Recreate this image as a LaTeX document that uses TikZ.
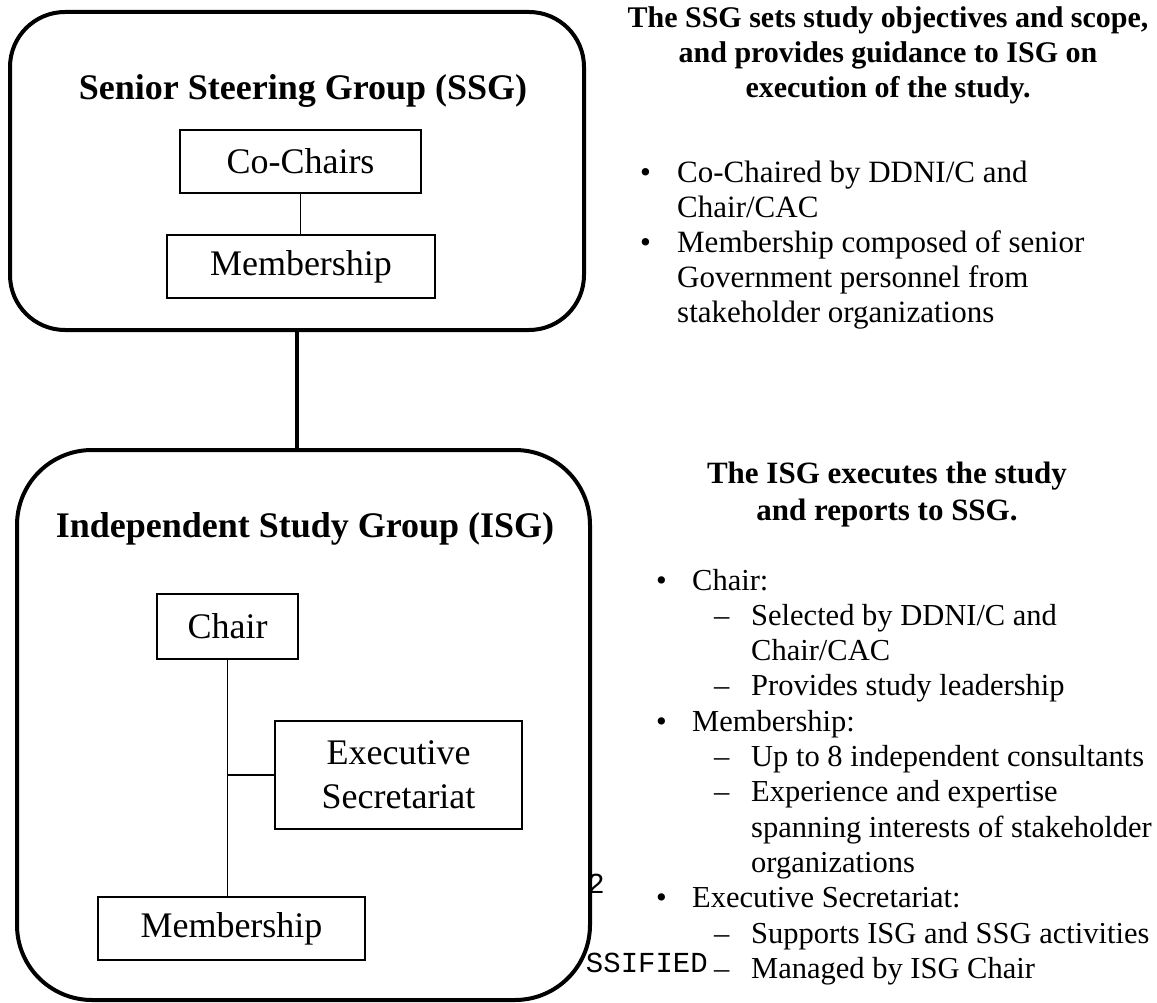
\documentclass[tikz,border=0pt]{standalone}
\usepackage{fontspec}
\setmainfont{Liberation Serif}
\newfontfamily\typefont{Liberation Mono}
\newcommand{\boxfont}{\fontsize{36}{44}\selectfont}
\newcommand{\groupfont}{\fontsize{36}{42}\selectfont\bfseries}
\newcommand{\headfont}{\fontsize{30}{35}\selectfont\bfseries}
\newcommand{\isgheadfont}{\fontsize{31}{37}\selectfont\bfseries}
\newcommand{\notefont}{\fontsize{31}{35}\selectfont}
\newcommand{\isgnotefont}{\fontsize{30.5}{35.3}\selectfont}
\begin{document}
\begin{tikzpicture}[x=1pt, y=-1pt,
    groupbox/.style={draw, line width=4pt, rounded corners=55pt, inner sep=0pt},
    unitbox/.style={draw, line width=1.6pt, inner sep=0pt, font=\boxfont, align=center},
    thinlink/.style={line width=1.6pt},
    thicklink/.style={line width=4pt}]

  % Achtergrond
  \useasboundingbox[fill=white] (0,0) rectangle (1157,1003);

  % Restanten van de scan
  \node[anchor=base east, inner sep=0pt, font=\typefont\fontsize{29}{29}\selectfont] (pagenr) at (605,893) {2};
  \node[anchor=base east, inner sep=0pt, font=\typefont\fontsize{29}{29}\selectfont] (footer) at (708,972) {SSIFIED};

  % Groepen
  \node[groupbox, minimum width=574pt, minimum height=318pt] (ssg) at (297,171) {};
  \node[groupbox, rounded corners=75pt, minimum width=573pt, minimum height=550pt] (isg) at (303.5,725) {};
  \node[anchor=base, font=\groupfont] (ssgtitle) at (303,100) {Senior Steering Group (SSG)};
  \node[anchor=base, font=\groupfont] (isgtitle) at (305,537) {Independent Study Group (ISG)};

  % SSG
  \node[unitbox, minimum width=241pt, minimum height=63pt] (cochairs) at (300.5,161.5) {Co-Chairs};
  \node[unitbox, minimum width=268pt, minimum height=63pt] (ssgmem) at (301,266.5) {Membership};

  % ISG
  \node[unitbox, minimum width=141pt, minimum height=65pt] (chair) at (227.5,626.5) {Chair};
  \node[unitbox, minimum width=247pt, minimum height=108pt] (execsec) at (398.5,775) {Executive\\Secretariat};
  \node[unitbox, minimum width=267pt, minimum height=63pt] (isgmem) at (231.5,928.5) {Membership};

  % Verbindingen
  \draw[thicklink] (ssg.south) -- (ssg.south |- isg.north);
  \draw[thinlink] (cochairs.south) -- (cochairs.south |- ssgmem.north);
  \draw[thinlink] (chair.south) -- (chair.south |- isgmem.north);
  \draw[thinlink] (execsec.west) -- (execsec.west -| chair.south);

  % Toelichting SSG
  \node[anchor=base, inner sep=0pt, font=\headfont] (ssghead) at (888,28)
    {\begin{tabular}[t]{@{}c@{}}
      The SSG sets study objectives and scope,\\
      and provides guidance to ISG on\\
      execution of the study.
    \end{tabular}};
  \node[anchor=base west, inner sep=0pt, font=\notefont] (ssgnotes) at (634,183)
    {\begin{tabular}[t]{@{}p{43pt}@{}l@{}}
      \hspace*{6pt}\textbullet & Co-Chaired by DDNI/C and\\
      & Chair/CAC\\
      \hspace*{6pt}\textbullet & Membership composed of senior\\
      & Government personnel from\\
      & stakeholder organizations
    \end{tabular}};

  % Toelichting ISG
  \node[anchor=base, inner sep=0pt, font=\isgheadfont] (isghead) at (887,483)
    {\begin{tabular}[t]{@{}c@{}}
      The ISG executes the study\\
      and reports to SSG.
    \end{tabular}};
  \node[anchor=base west, inner sep=0pt, font=\isgnotefont] (isgnotes) at (650,590)
    {\begin{tabular}[t]{@{}p{42pt}@{}p{59pt}@{}l@{}}
      \hspace*{6pt}\textbullet & \multicolumn{2}{@{}l@{}}{Chair:}\\
      & \hspace*{22pt}-- & Selected by DDNI/C and\\
      & & Chair/CAC\\
      & \hspace*{22pt}-- & Provides study leadership\\
      \hspace*{6pt}\textbullet & \multicolumn{2}{@{}l@{}}{Membership:}\\
      & \hspace*{22pt}-- & Up to 8 independent consultants\\
      & \hspace*{22pt}-- & Experience and expertise\\
      & & spanning interests of stakeholder\\
      & & organizations\\
      \hspace*{6pt}\textbullet & \multicolumn{2}{@{}l@{}}{Executive Secretariat:}\\
      & \hspace*{22pt}-- & Supports ISG and SSG activities\\
      & \hspace*{22pt}-- & Managed by ISG Chair
    \end{tabular}};

\end{tikzpicture}
\end{document}
